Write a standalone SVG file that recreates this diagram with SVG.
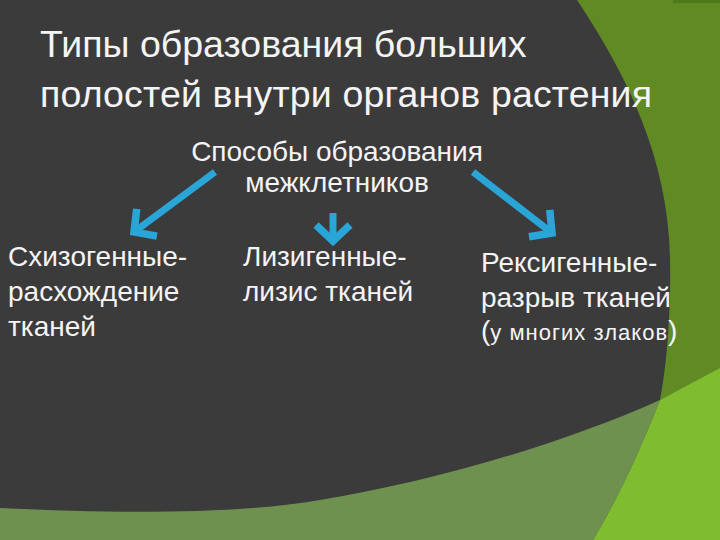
<svg xmlns="http://www.w3.org/2000/svg" width="720" height="540" viewBox="0 0 720 540">
  <style>
    .t { font-family: "Liberation Sans", Arial, sans-serif; fill: #f4f4f4; }
    .title { font-size: 37.5px; }
    .body { font-size: 28px; }
    .small { font-size: 22px; }
    .arrow { stroke: #29a5d8; stroke-width: 7; fill: none; }
  </style>
  <defs>
    <marker id="head" markerUnits="userSpaceOnUse" markerWidth="50" markerHeight="50" viewBox="-25 -25 50 50" refX="0" refY="0" orient="auto">
      <path d="M-16,-17 L0,0 L-16,17" fill="none" stroke="#29a5d8" stroke-width="7.5" stroke-linejoin="miter"/>
    </marker>
  </defs>
  <g id="background">
    <rect x="0" y="0" width="720" height="540" fill="#3c3b3c"/>
    <path d="M577,0 C627,75 669,160 670,260 C671,320 666,370 660,400 L720,370 L720,0 Z" fill="#5f8a24"/>
    <rect x="673" y="0" width="47" height="3" fill="#4f7a1c"/>
    <path d="M0,508 C120,514 240,514 320,500 C430,482 560,445 660,400 C640,450 620,495 593,540 L0,540 Z" fill="#6f9150"/>
    <path d="M660,400 L720,368 L720,540 L593,540 C620,495 640,450 660,400 Z" fill="#7fbc2f"/>
  </g>
  <g id="title">
    <text class="t title" x="40" y="57">Типы образования больших</text>
    <text class="t title" x="40" y="107" textLength="612" lengthAdjust="spacing">полостей внутри органов растения</text>
  </g>
  <g id="root">
    <text class="t body" x="337" y="161" text-anchor="middle">Способы образования</text>
    <text class="t body" x="337" y="192" text-anchor="middle">межклетников</text>
  </g>
  <g id="schizo">
    <text class="t body" x="8" y="266">Схизогенные-</text>
    <text class="t body" x="8" y="301">расхождение</text>
    <text class="t body" x="8" y="336">тканей</text>
  </g>
  <g id="lysi">
    <text class="t body" x="243" y="266">Лизигенные-</text>
    <text class="t body" x="243" y="301">лизис тканей</text>
  </g>
  <g id="rhexi">
    <text class="t body" x="481" y="272">Рексигенные-</text>
    <text class="t body" x="481" y="307">разрыв тканей</text>
    <text class="t body" x="481" y="340" font-size="30">(<tspan class="small" letter-spacing="1">у многих злаков</tspan>)</text>
  </g>
  <g id="connectors">
    <line class="arrow" x1="215" y1="172" x2="134" y2="232" marker-end="url(#head)"/>
    <line class="arrow" x1="333" y1="213" x2="333" y2="241" marker-end="url(#head)"/>
    <line class="arrow" x1="473" y1="172" x2="552" y2="233" marker-end="url(#head)"/>
  </g>
</svg>
